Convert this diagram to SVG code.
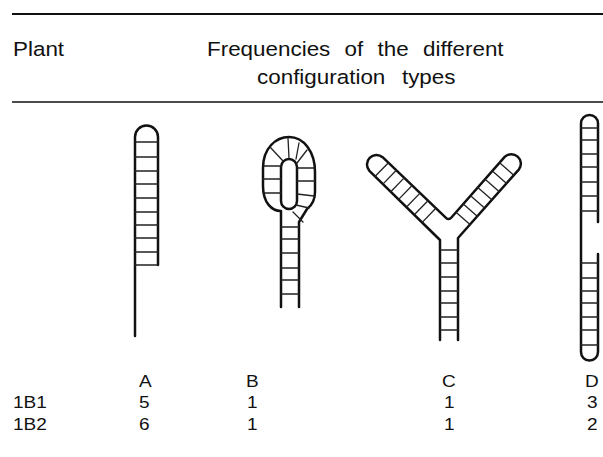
<svg xmlns="http://www.w3.org/2000/svg" width="603" height="457" viewBox="0 0 603 457">
  <style>
    .t { font-family: "Liberation Sans", Arial, sans-serif; font-size: 17px; fill: #111; }
    .h { font-size: 19.5px; }
    .rule { stroke: #111; fill: none; }
    .ol { fill: none; stroke: #111; stroke-width: 2.5; stroke-linecap: round; stroke-linejoin: round; }
    .rg { stroke: #222; stroke-width: 1.3; stroke-linecap: round; fill: none; }
  </style>
  <rect width="603" height="457" fill="#fff"/>

  <!-- table rules -->
  <line class="rule" x1="12" y1="14" x2="603" y2="14" stroke-width="2.2"/>
  <line class="rule" x1="12" y1="102" x2="603" y2="102" stroke-width="1.4"/>

  <!-- header (type set slightly wide) -->
  <text class="t h" transform="translate(13 56) scale(1.15 1)">Plant</text>
  <text class="t h" transform="translate(207 56) scale(1.15 1)" word-spacing="7">Frequencies of the different</text>
  <text class="t h" transform="translate(257 84) scale(1.15 1)" word-spacing="9">configuration types</text>

  <!-- type A: straight pairing, one arm unpaired at the end -->
  <g id="typeA">
    <path class="ol" d="M135,336 V137 A11.5,11.5 0 0 1 158,137 V265"/>
    <path class="rg" d="M135,142H158M135,157H158M135,171H158M135,184H158M135,198H158M135,212H158M135,225H158M135,238H158M135,252H158M135,265H158"/>
  </g>

  <!-- type B: loop with paired stem -->
  <g id="typeB">
    <path class="ol" d="M281,307 V211 C272,211 263,203 263,186 V168 C263,148 276,137 289,137 C304,137 315,152 315,172 V192 C315,200 311,206 307,209 L299,222 V307"/>
    <rect class="ol" x="281" y="159" width="16" height="50" rx="8"/>
    <path class="rg" d="M281,227H299M281,239H299M281,253H299M281,268H299M281,280H299M281,294H299"/>
    <path class="rg" d="M264,166H281M263,179H281M264,193H281M270,147L283,161M288,138L289,158M299,143L296,159M307,150L297,163M297,168H315M297,181H315M297,194L314,196M296,205L309,208M293,212L303,222"/>
  </g>

  <!-- type C: Y-shaped fork -->
  <g id="typeC">
    <path class="ol" d="M440,340 V240 L369.4,170.8 A9.5,9.5 0 0 1 382.6,157.2 L446,217.9 Q448.7,220.5 451.4,217.5 L504.9,156.7 A9.5,9.5 0 0 1 519,169.3 L458,238 V340"/>
    <path class="rg" d="M375.2,176.3L388.4,162.7M383.1,183.9L396.3,170.3M391,191.5L404.2,177.9M398.9,199.1L412.1,185.5M406.8,206.7L420,193.1M414.8,214.3L427.9,200.7M422.7,221.9L435.8,208.3"/>
    <path class="rg" d="M499.6,162.7L513.8,175.3M492.4,171L506.6,183.5M485.1,179.2L499.3,191.8M477.8,187.5L492.1,200M470.6,195.7L484.8,208.3M463.3,204L477.5,216.5M456,212.2L470.3,224.8"/>
    <path class="rg" d="M440,250H458M440,263H458M440,277H458M440,291H458M440,303H458M440,317H458M440,330H458"/>
  </g>

  <!-- type D: paired at both ends, open in the middle -->
  <g id="typeD">
    <path class="ol" d="M598,222 V123.5 A8.5,8.5 0 0 0 581,123.5 V352 A8.5,8.5 0 0 0 598,352 V254"/>
    <path class="rg" d="M581,128H598M581,140H598M581,154H598M581,167H598M581,182H598M581,196H598M581,211H598M581,263H598M581,278H598M581,291H598M581,303H598M581,317H598M581,330H598M581,345H598"/>
  </g>

  <!-- column letters and counts -->
  <text class="t" transform="translate(139 387) scale(1.12 1)">A</text>
  <text class="t" transform="translate(246 387) scale(1.12 1)">B</text>
  <text class="t" transform="translate(442 387) scale(1.12 1)">C</text>
  <text class="t" transform="translate(585 387) scale(1.12 1)">D</text>

  <text class="t" transform="translate(13 408) scale(1.12 1)">1B1</text>
  <text class="t" transform="translate(139 408) scale(1.12 1)">5</text>
  <text class="t" transform="translate(247 408) scale(1.12 1)">1</text>
  <text class="t" transform="translate(444 408) scale(1.12 1)">1</text>
  <text class="t" transform="translate(587 408) scale(1.12 1)">3</text>

  <text class="t" transform="translate(13 430) scale(1.12 1)">1B2</text>
  <text class="t" transform="translate(139 430) scale(1.12 1)">6</text>
  <text class="t" transform="translate(247 430) scale(1.12 1)">1</text>
  <text class="t" transform="translate(444 430) scale(1.12 1)">1</text>
  <text class="t" transform="translate(587 430) scale(1.12 1)">2</text>
</svg>
